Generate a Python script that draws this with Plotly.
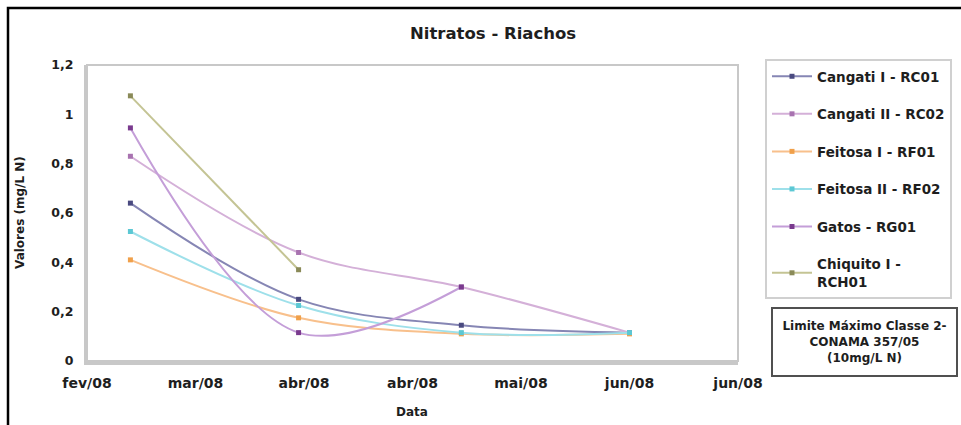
import plotly.graph_objects as go

# ---- data ----
dates = ["2008-03-06", "2008-04-06", "2008-05-06", "2008-06-06"]
cangati1 = [0.64, 0.25, 0.145, 0.115]
cangati2 = [0.83, 0.44, 0.30, 0.115]
feitosa1 = [0.41, 0.175, 0.11, 0.11]
feitosa2 = [0.525, 0.225, 0.115, 0.115]
gatos = [0.945, 0.115, 0.30]
chiquito = [1.075, 0.37]

series_names = ["Cangati I - RC01", "Cangati II - RC02", "Feitosa I - RF01",
                "Feitosa II - RF02", "Gatos - RG01", "Chiquito I -<br>RCH01"]
series_values = [cangati1, cangati2, feitosa1, feitosa2, gatos, chiquito]
line_colors = ["#8686b4", "#d4b0d8", "#f8c08c", "#9ee0ea", "#c49ed8", "#c4c494"]
marker_colors = ["#4a4a80", "#a872b0", "#f0a04a", "#5cc8d4", "#7a3a8e", "#8a8a58"]

x_tick_vals = ["2008-02-27", "2008-03-18", "2008-04-07", "2008-04-27",
               "2008-05-17", "2008-06-06", "2008-06-26"]
x_tick_text = ["fev/08", "mar/08", "abr/08", "abr/08", "mai/08", "jun/08", "jun/08"]
y_tick_vals = [0, 0.2, 0.4, 0.6, 0.8, 1.0, 1.2]
y_tick_text = ["0", "0,2", "0,4", "0,6", "0,8", "1", "1,2"]

title_text = "Nitratos - Riachos"
x_title = "Data"
y_title = "Valores (mg/L N)"
limit_text = "Limite Máximo Classe 2-<br>CONAMA 357/05<br>(10mg/L N)"

# ---- geometry (pixels) ----
W, H = 961, 425
L, R, T, B = 87, 738, 65, 361
pw, ph = R - L, B - T


def px(x):
    return (x - L) / pw


def py(y):
    return (B - y) / ph


FONT = "DejaVu Sans"
TXT = "#1e1e1e"

fig = go.Figure()
for i, (name, vals) in enumerate(zip(series_names, series_values)):
    fig.add_trace(go.Scatter(
        x=dates[:len(vals)], y=vals, name=name, mode="lines+markers",
        line=dict(color=line_colors[i], width=2, shape="spline", smoothing=1),
        marker=dict(symbol="square", size=5, color=marker_colors[i]),
        legendgroup=f"g{i}",
    ))


def ann(text, x, y, size, **kw):
    return dict(text=text, xref="paper", yref="paper", x=px(x), y=py(y),
                xanchor="center", yanchor="middle", showarrow=False,
                font=dict(family=FONT, size=size, color=TXT, weight="bold"), **kw)


fig.update_layout(
    width=W, height=H,
    margin=dict(l=L, r=W - R, t=T, b=H - B, autoexpand=False),
    paper_bgcolor="white", plot_bgcolor="white",
    font=dict(family=FONT, color=TXT),
    showlegend=True,
    legend=dict(
        x=px(765), y=py(59), xanchor="left", yanchor="top",
        bordercolor="#d0d0d0", borderwidth=2, bgcolor="white",
        font=dict(family=FONT, size=13.5, color=TXT, weight="bold"),
        tracegroupgap=17, itemwidth=40, traceorder="grouped",
        maxheight=400,
    ),
    xaxis=dict(
        type="date", range=[x_tick_vals[0], x_tick_vals[-1]],
        tickvals=x_tick_vals, ticktext=x_tick_text, ticks="",
        tickfont=dict(family=FONT, size=14, color=TXT, weight="bold"),
        showgrid=False, zeroline=False, showline=True,
        linecolor="#c8c8c8", linewidth=4, ticklabelstandoff=6,
    ),
    yaxis=dict(
        range=[0, 1.2], tickvals=y_tick_vals, ticktext=y_tick_text, ticks="",
        tickfont=dict(family=FONT, size=12.5, color=TXT, weight="bold"),
        showgrid=False, zeroline=False, showline=True,
        linecolor="#c8c8c8", linewidth=3, ticklabelstandoff=8,
    ),
    shapes=[
        dict(type="rect", xref="paper", yref="paper", x0=0, x1=1, y0=0, y1=1,
             line=dict(color="#c8c8c8", width=2), layer="above"),
        dict(type="rect", xref="paper", yref="paper",
             x0=px(8), x1=px(990), y0=py(445), y1=py(8),
             line=dict(color="black", width=2.5)),
    ],
    annotations=[
        ann(title_text, 493, 33, 16.5),
        ann(x_title, 412, 412, 12),
        ann(y_title, 20, 213, 12, textangle=-90),
        ann(limit_text, 864, 342, 12, width=181, height=64, align="center",
            bordercolor="#505050", borderwidth=2, bgcolor="white"),
    ],
)

fig.write_html("out.html", config={"displayModeBar": False},
               post_script="document.body.style.margin='0';")
